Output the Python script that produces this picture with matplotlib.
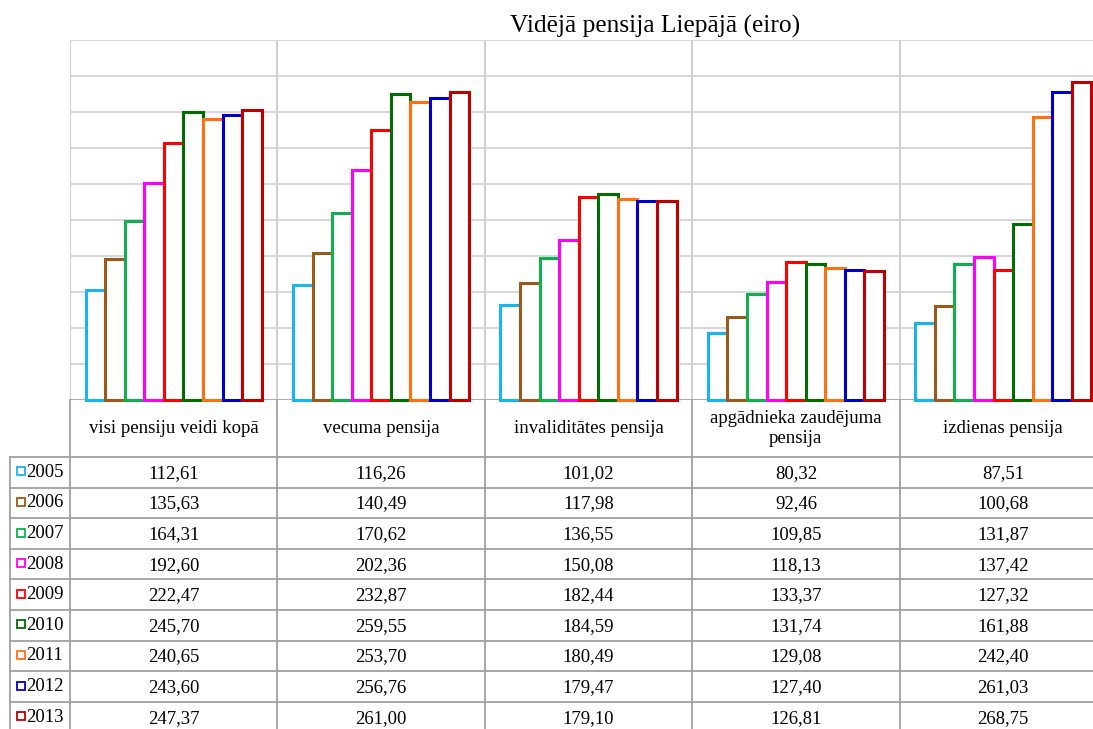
import matplotlib.pyplot as plt
from matplotlib.patches import Rectangle

# dati no tabulas
kategorijas = ['visi pensiju veidi kopā', 'vecuma pensija', 'invaliditātes pensija',
               'apgādnieka zaudējuma\npensija', 'izdienas pensija']
gadi = ['2005', '2006', '2007', '2008', '2009', '2010', '2011', '2012', '2013']
v2005 = [112.61, 116.26, 101.02, 80.32, 87.51]
v2006 = [135.63, 140.49, 117.98, 92.46, 100.68]
v2007 = [164.31, 170.62, 136.55, 109.85, 131.87]
v2008 = [192.60, 202.36, 150.08, 118.13, 137.42]
v2009 = [222.47, 232.87, 182.44, 133.37, 127.32]
v2010 = [245.70, 259.55, 184.59, 131.74, 161.88]
v2011 = [240.65, 253.70, 180.49, 129.08, 242.40]
v2012 = [243.60, 256.76, 179.47, 127.40, 261.03]
v2013 = [247.37, 261.00, 179.10, 126.81, 268.75]
vertibas = [v2005, v2006, v2007, v2008, v2009, v2010, v2011, v2012, v2013]
krasas = ['#1AB4F0', '#9B5A1A', '#10B050', '#FF00FF', '#FF0000',
          '#006E00', '#FF7010', '#0000CC', '#C00000']

plt.rcParams['font.family'] = ['Liberation Serif', 'DejaVu Serif']

W, H = 1093, 729
fig = plt.figure(figsize=(W / 100, H / 100), dpi=100)

# grafika laukums (px): x 70..1107, y 40..400
x0, x1, y0, y1 = 70, 1107, 40, 400
ax = fig.add_axes([x0 / W, 1 - y1 / H, (x1 - x0) / W, (y1 - y0) / H])
ymin, ymax = 30, 300
ax.set_xlim(-0.5, 4.5)
ax.set_ylim(ymin, ymax)

bw = 0.0943
for j, (vals, c) in enumerate(zip(vertibas, krasas)):
    for i, v in enumerate(vals):
        ax.add_patch(Rectangle((i + (j - 4.5) * bw, ymin), bw, v - ymin,
                               facecolor='white', edgecolor=c, lw=2.2,
                               zorder=3 + j, clip_on=False))

for k in range(11):
    yv = ymin + k * (ymax - ymin) / 10
    ax.axhline(yv, color='#D0D0D0', lw=1.2, zorder=1)
for i in range(6):
    ax.axvline(i - 0.5, color='#D0D0D0', lw=1.5, zorder=1)
ax.axhline(ymin, color='#A0A0A0', lw=1.8, zorder=2)
for s in ax.spines.values():
    s.set_visible(False)
ax.set_xticks([])
ax.set_yticks([])

fig.text(655 / W, 1 - 33 / H, 'Vidējā pensija Liepājā (eiro)', fontsize=18.3,
         ha='center', va='baseline')

# datu tabula
tb = fig.add_axes([0, 0, 1, 1])
tb.set_xlim(0, W)
tb.set_ylim(H, 0)
tb.axis('off')
lc = '#A0A0A0'
col = [x0 + i * (x1 - x0) / 5 for i in range(6)]
hdr_b = 457
rh = 30.6
rows = [hdr_b + k * rh for k in range(len(gadi) + 1)]

for cx in col:
    tb.plot([cx, cx], [y1, rows[-1]], color=lc, lw=1.3)
tb.plot([10, 10], [hdr_b, rows[-1]], color=lc, lw=1.3)
for ry in rows:
    tb.plot([10, x1], [ry, ry], color=lc, lw=1.3)

for i, name in enumerate(kategorijas):
    tb.text((col[i] + col[i + 1]) / 2, (y1 + hdr_b) / 2, name, fontsize=13.5,
            ha='center', va='center', linespacing=1.3)

for j, (g, vals, c) in enumerate(zip(gadi, vertibas, krasas)):
    yc = (rows[j] + rows[j + 1]) / 2
    tb.add_patch(Rectangle((17, yc - 5), 8, 8, facecolor='white',
                           edgecolor=c, lw=1.3))
    tb.text(26, yc, g, fontsize=13.5, ha='left', va='center')
    for i, v in enumerate(vals):
        tb.text((col[i] + col[i + 1]) / 2, yc + 1, f'{v:.2f}'.replace('.', ','),
                fontsize=13.5, ha='center', va='center')

fig.savefig('out.png', dpi=100)
